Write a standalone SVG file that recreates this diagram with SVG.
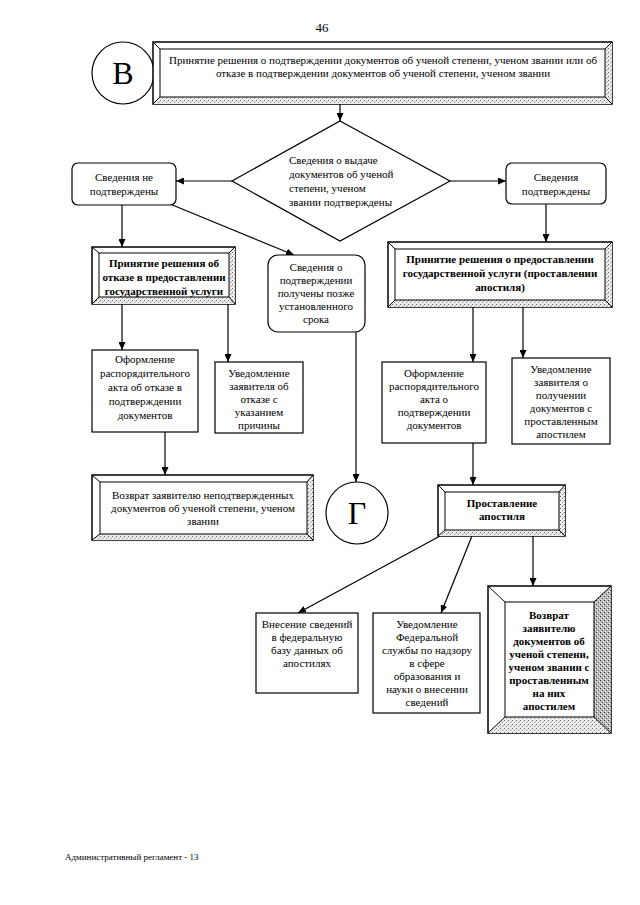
<svg xmlns="http://www.w3.org/2000/svg" width="640" height="905" viewBox="0 0 640 905">
<defs>
<pattern id="st" width="4" height="4" patternUnits="userSpaceOnUse"><rect width="4" height="4" fill="#ececec"/><rect x="0" y="0" width="1" height="1" fill="#6a6a6a"/><rect x="2" y="2" width="1" height="1" fill="#999"/><rect x="3" y="1" width="1" height="1" fill="#bbb"/></pattern>
<pattern id="st2" width="4" height="4" patternUnits="userSpaceOnUse"><rect width="4" height="4" fill="#bdbdbd"/><rect x="0" y="0" width="1" height="1" fill="#333"/><rect x="2" y="2" width="1" height="1" fill="#555"/><rect x="3" y="1" width="1" height="1" fill="#eee"/><rect x="1" y="3" width="1" height="1" fill="#fff"/></pattern>
<marker id="ah" markerUnits="userSpaceOnUse" markerWidth="8" markerHeight="7" refX="8" refY="3.5" orient="auto"><path d="M0,0 L8,3.5 L0,7 z" fill="#000"/></marker>
</defs>
<style>
text{font-family:"Liberation Serif","Times New Roman",serif;font-size:11px;fill:#000;text-anchor:middle}
.b{font-weight:bold}
.big{font-size:32px}
.l{text-anchor:start}
.box{fill:#fff;stroke:#000;stroke-width:1.2}
.o{fill:#fff;stroke:#000;stroke-width:1.5}
.i{fill:none;stroke:#000;stroke-width:1}
.f{fill:url(#st);stroke:none}
.f2{fill:url(#st2);stroke:none}
.d{stroke:#000;stroke-width:1;fill:none}
.c{stroke:#000;stroke-width:1.2;fill:none;marker-end:url(#ah)}
.foot{font-size:9px;text-anchor:start}
</style>
<rect width="640" height="905" fill="#fff"/>
<text x="322" y="32" style="font-size:13px">46</text>

<g id="connectors">
<path class="c" d="M340,104 L340,121"/>
<path class="c" d="M232,181 L176,181"/>
<path class="c" d="M450,181 L506,181"/>
<path class="c" d="M122,205 L122,247"/>
<path class="c" d="M170,204 L294,255"/>
<path class="c" d="M546,204 L546,242"/>
<path class="c" d="M122,304 L122,350"/>
<path class="c" d="M228,304 L228,362"/>
<path class="c" d="M356,332 L356,482"/>
<path class="c" d="M165,432 L165,475"/>
<path class="c" d="M473,307 L473,362"/>
<path class="c" d="M523,307 L523,358"/>
<path class="c" d="M473,443 L473,485"/>
<path class="c" d="M440,536 L298,613"/>
<path class="c" d="M472,536 L441,613"/>
<path class="c" d="M533,536 L533,586"/>
</g>

<g id="nB">
<circle cx="123" cy="73" r="31" class="box"/>
<text x="123" y="84" class="big">В</text>
</g>

<g id="n-header">
<rect x="153" y="42" width="459" height="62" class="o"/>
<polygon class="f" points="612,42 612,104 605,97 605,49"/>
<polygon class="f" points="153,104 612,104 605,97 160,97"/>
<path class="d" d="M153,42 L160,49 M612,42 L605,49 M153,104 L160,97 M612,104 L605,97"/>
<rect x="160" y="49" width="445" height="48" class="i"/>
<text x="383" y="64">Принятие решения о подтверждении документов об ученой степени, ученом звании или об</text>
<text x="383" y="77">отказе в подтверждении документов об ученой степени, ученом звании</text>
</g>

<g id="n-diamond">
<polygon points="340,121 450,181 340,241 232,181" class="box"/>
<text x="289" y="164" class="l">Сведения о выдаче</text>
<text x="289" y="178" class="l">документов об ученой</text>
<text x="289" y="192" class="l">степени, ученом</text>
<text x="289" y="206" class="l">звании подтверждены</text>
</g>

<g id="n-notconf">
<rect x="72" y="163" width="104" height="42" rx="6" class="box"/>
<text x="124" y="181">Сведения не</text>
<text x="124" y="195">подтверждены</text>
</g>

<g id="n-conf">
<rect x="506" y="163" width="100" height="41" rx="6" class="box"/>
<text x="556" y="181">Сведения</text>
<text x="556" y="195">подтверждены</text>
</g>

<g id="n-refuse">
<rect x="92" y="247" width="143" height="57" class="o"/>
<polygon class="f" points="235,247 235,304 229,297 229,253"/>
<polygon class="f" points="92,304 235,304 229,297 99,297"/>
<path class="d" d="M92,247 L99,253 M235,247 L229,253 M92,304 L99,297 M235,304 L229,297"/>
<rect x="99" y="253" width="130" height="44" class="i"/>
<text x="164" y="267" class="b">Принятие решения об</text>
<text x="164" y="281" class="b">отказе в предоставлении</text>
<text x="164" y="295" class="b">государственной услуги</text>
</g>

<g id="n-late">
<rect x="268" y="255" width="97" height="77" rx="10" class="box"/>
<text x="316" y="271">Сведения о</text>
<text x="316" y="284">подтверждении</text>
<text x="316" y="297">получены позже</text>
<text x="316" y="310">установленного</text>
<text x="316" y="323">срока</text>
</g>

<g id="n-grant">
<rect x="388" y="242" width="224" height="65" class="o"/>
<polygon class="f" points="612,242 612,307 605,300 605,249"/>
<polygon class="f" points="388,307 612,307 605,300 395,300"/>
<path class="d" d="M388,242 L395,249 M612,242 L605,249 M388,307 L395,300 M612,307 L605,300"/>
<rect x="395" y="249" width="210" height="51" class="i"/>
<text x="500" y="263" class="b">Принятие решения о предоставлении</text>
<text x="500" y="277" class="b">государственной услуги (проставлении</text>
<text x="500" y="291" class="b">апостиля)</text>
</g>

<g id="n-act-refuse">
<rect x="92" y="350" width="106" height="82" class="box"/>
<text x="145" y="363">Оформление</text>
<text x="145" y="377">распорядительного</text>
<text x="145" y="391">акта об отказе в</text>
<text x="145" y="405">подтверждении</text>
<text x="145" y="419">документов</text>
</g>

<g id="n-notify-refuse">
<rect x="215" y="362" width="88" height="71" class="box"/>
<text x="259" y="377">Уведомление</text>
<text x="259" y="390">заявителя об</text>
<text x="259" y="403">отказе с</text>
<text x="259" y="416">указанием</text>
<text x="259" y="429">причины</text>
</g>

<g id="n-return-unconf">
<rect x="92" y="475" width="221" height="65" class="o"/>
<polygon class="f" points="313,475 313,540 307,534 307,482"/>
<polygon class="f" points="92,540 313,540 307,534 100,534"/>
<path class="d" d="M92,475 L100,482 M313,475 L307,482 M92,540 L100,534 M313,540 L307,534"/>
<rect x="100" y="482" width="207" height="52" class="i"/>
<text x="203" y="499">Возврат заявителю неподтвержденных</text>
<text x="203" y="512">документов об ученой степени, ученом</text>
<text x="203" y="525">звании</text>
</g>

<g id="nG">
<circle cx="357" cy="513" r="31" class="box"/>
<text x="357" y="524" class="big">Г</text>
</g>

<g id="n-act-confirm">
<rect x="382" y="362" width="104" height="81" class="box"/>
<text x="434" y="377">Оформление</text>
<text x="434" y="390">распорядительного</text>
<text x="434" y="403">акта о</text>
<text x="434" y="416">подтверждении</text>
<text x="434" y="429">документов</text>
</g>

<g id="n-notify-confirm">
<rect x="512" y="358" width="98" height="86" class="box"/>
<text x="561" y="373">Уведомление</text>
<text x="561" y="386">заявителя о</text>
<text x="561" y="399">получении</text>
<text x="561" y="412">документов с</text>
<text x="561" y="425">проставленным</text>
<text x="561" y="438">апостилем</text>
</g>

<g id="n-apostille">
<rect x="438" y="485" width="127" height="51" class="o"/>
<polygon class="f" points="565,485 565,536 559,530 559,492"/>
<polygon class="f" points="438,536 565,536 559,530 445,530"/>
<path class="d" d="M438,485 L445,492 M565,485 L559,492 M438,536 L445,530 M565,536 L559,530"/>
<rect x="445" y="492" width="114" height="38" class="i"/>
<text x="502" y="507" class="b">Проставление</text>
<text x="502" y="520" class="b">апостиля</text>
</g>

<g id="n-db">
<rect x="256" y="613" width="102" height="80" class="box"/>
<text x="307" y="628">Внесение сведений</text>
<text x="307" y="641">в федеральную</text>
<text x="307" y="654">базу данных об</text>
<text x="307" y="667">апостилях</text>
</g>

<g id="n-notify-fed">
<rect x="373" y="613" width="107" height="100" class="box"/>
<text x="427" y="628">Уведомление</text>
<text x="427" y="641">Федеральной</text>
<text x="427" y="654">службы по надзору</text>
<text x="427" y="667">в сфере</text>
<text x="427" y="680">образования и</text>
<text x="427" y="693">науки о внесении</text>
<text x="427" y="706">сведений</text>
</g>

<g id="n-return">
<rect x="488" y="586" width="123" height="147" class="o"/>
<polygon class="f2" points="611,586 611,733 594,717 594,602"/>
<polygon class="f" points="488,733 611,733 594,717 505,717"/>
<path class="d" d="M488,586 L505,602 M611,586 L594,602 M488,733 L505,717 M611,733 L594,717"/>
<rect x="505" y="602" width="89" height="115" class="i"/>
<text x="549" y="619" class="b">Возврат</text>
<text x="549" y="632" class="b">заявителю</text>
<text x="549" y="645" class="b">документов об</text>
<text x="549" y="658" class="b">ученой степени,</text>
<text x="549" y="671" class="b">ученом звании с</text>
<text x="549" y="684" class="b">проставленным</text>
<text x="549" y="697" class="b">на них</text>
<text x="549" y="710" class="b">апостилем</text>
</g>

<text x="65" y="860" class="foot">Административный регламент - 13</text>
</svg>
